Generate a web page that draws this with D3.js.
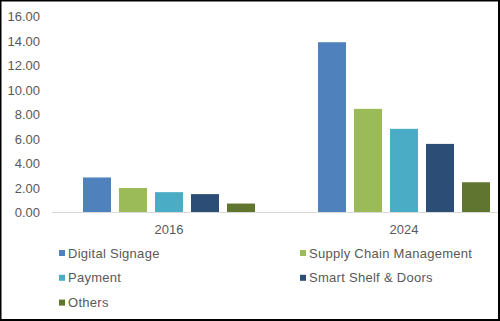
<!DOCTYPE html>
<html>
<head>
  <meta charset="utf-8">
  <script src="https://d3js.org/d3.v7.min.js"></script>
  <style>
    body { margin: 0; background: #fff; }
    svg { display: block; font-family: "Liberation Sans", Arial, sans-serif; }
  </style>
</head>
<body>
<div id="vis"></div>
<script>
  // market size by application, per year
  var years = ['2016', '2024'];
  var segments = ['Digital Signage', 'Supply Chain Management', 'Payment', 'Smart Shelf & Doors', 'Others'];
  var values2016 = [2.86, 2.0, 1.66, 1.5, 0.73];
  var values2024 = [13.9, 8.46, 6.83, 5.6, 2.47];
  var yTicks = [0, 2, 4, 6, 8, 10, 12, 14, 16];
  var colors = ['#4F81BD', '#9BBB59', '#4BACC6', '#2C4D75', '#5F7530'];

  var width = 500, height = 321;
  var plot = { left: 51.5, right: 521.5, top: 16.5, bottom: 212.5 };

  var svg = d3.select('#vis').append('svg')
    .attr('width', width)
    .attr('height', height);

  var rows = years.map(function (y, i) {
    return { year: y, values: i === 0 ? values2016 : values2024 };
  });

  var x0 = d3.scaleBand().domain(years).range([plot.left, plot.right]);
  var x1 = d3.scaleBand().domain(segments).range([0, 172]).paddingInner(8 / 36);
  var y = d3.scaleLinear().domain([0, 16]).range([plot.bottom, plot.top]);

  // y tick labels only, no axis line
  svg.append('g')
    .selectAll('text')
    .data(yTicks)
    .enter().append('text')
    .attr('x', 40)
    .attr('y', d => y(d))
    .attr('dy', '0.36em')
    .attr('text-anchor', 'end')
    .attr('fill', '#595959')
    .style('font-size', '13px')
    .text(d => d3.format('.2f')(d));

  var groups = svg.append('g')
    .selectAll('g')
    .data(rows)
    .enter().append('g')
    .attr('transform', d => 'translate(' + (x0(d.year) + x0.bandwidth() / 2 - 86) + ',0)');

  groups.selectAll('rect')
    .data(d => d.values.map((v, i) => ({ seg: segments[i], v: v, i: i })))
    .enter().append('rect')
    .attr('x', d => x1(d.seg))
    .attr('width', x1.bandwidth())
    .attr('y', d => y(d.v))
    .attr('height', d => y(0) - y(d.v))
    .attr('fill', d => colors[d.i]);

  // category axis
  svg.append('line')
    .attr('x1', 52).attr('x2', 498)
    .attr('y1', plot.bottom).attr('y2', plot.bottom)
    .attr('stroke', '#D9D9D9')
    .attr('stroke-width', 1);

  svg.append('g')
    .selectAll('text')
    .data(years)
    .enter().append('text')
    .attr('x', d => x0(d) + x0.bandwidth() / 2)
    .attr('y', 229)
    .attr('dy', '0.36em')
    .attr('text-anchor', 'middle')
    .attr('fill', '#595959')
    .style('font-size', '13px')
    .text(d => d);

  // legend, two columns
  var legend = svg.append('g')
    .selectAll('g')
    .data(segments)
    .enter().append('g')
    .attr('transform', (d, i) => 'translate(' + (i % 2 === 0 ? 59 : 300) + ',' + (253 + Math.floor(i / 2) * 24.8) + ')');

  legend.append('rect')
    .attr('x', 0).attr('y', -3)
    .attr('width', 6).attr('height', 6)
    .attr('fill', (d, i) => colors[i]);

  legend.append('text')
    .attr('x', 9)
    .attr('y', 0)
    .attr('dy', '0.36em')
    .attr('fill', '#595959')
    .style('font-size', '13px')
    .style('letter-spacing', '0.28px')
    .text(d => d);

  // frame
  svg.append('rect')
    .attr('x', 0.5).attr('y', 0.5)
    .attr('width', 498.5).attr('height', 319.5)
    .attr('fill', 'none')
    .attr('stroke', '#000')
    .attr('stroke-width', 2);
</script>
</body>
</html>
